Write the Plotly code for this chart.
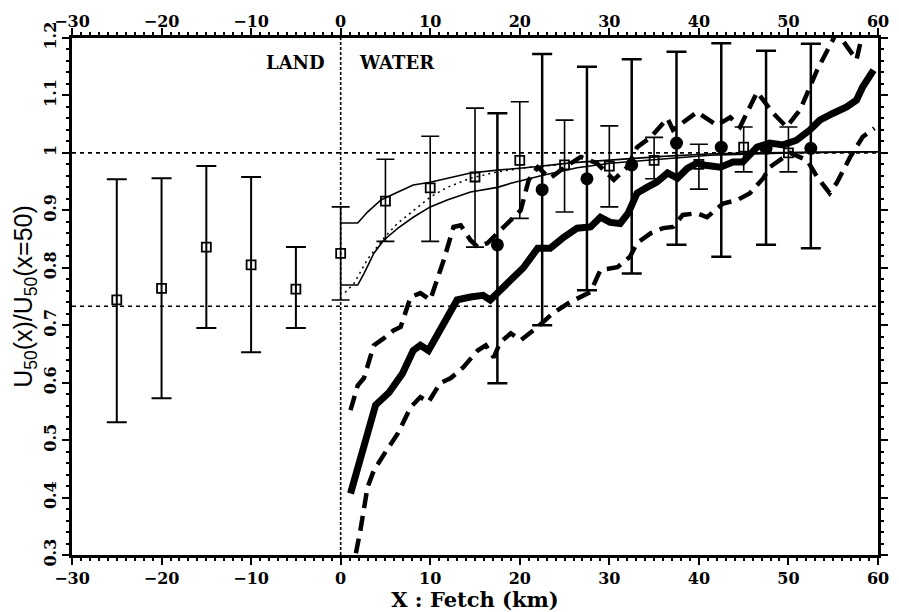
import plotly.graph_objects as go
import numpy as np

# ---------------- data ----------------
land_x = [-25, -20, -15, -10, -5]
land_y = [0.744, 0.764, 0.836, 0.805, 0.763]
land_hi = [0.954, 0.956, 0.977, 0.958, 0.836]
land_lo = [0.531, 0.573, 0.695, 0.653, 0.695]

sq_x = [0, 5, 10, 15, 20, 25, 30, 35, 40, 45, 50]
sq_y = [0.825, 0.916, 0.939, 0.958, 0.987, 0.979, 0.977, 0.987, 0.980, 1.010, 1.000]
sq_hi = [0.906, 0.989, 1.029, 1.078, 1.089, 1.057, 1.047, 1.027, 1.015, 1.045, 1.045]
sq_lo = [0.744, 0.846, 0.846, 0.836, 0.886, 0.897, 0.906, 0.955, 0.937, 0.967, 0.967]

ci_x = [17.5, 22.5, 27.5, 32.5, 37.5, 42.5, 47.5, 52.5]
ci_y = [0.840, 0.936, 0.955, 0.979, 1.017, 1.010, 1.008, 1.008]
ci_hi = [1.069, 1.172, 1.150, 1.163, 1.176, 1.191, 1.178, 1.190]
ci_lo = [0.599, 0.700, 0.761, 0.790, 0.840, 0.819, 0.840, 0.834]

mean_x = [1.1, 3.9, 5.4, 6.9, 8.1, 8.9, 9.8, 11.1, 11.9, 13.0, 14.5, 15.9, 16.7, 18.2,
          19.7, 20.4, 22.0, 23.4, 24.9, 26.4, 27.9, 29.0, 30.1, 31.2, 32.1, 33.1, 34.2,
          35.3, 36.5, 37.6, 38.7, 39.8, 40.5, 42.4, 43.8, 44.9, 46.5, 47.9, 49.4, 50.9,
          52.4, 53.5, 55.0, 56.5, 57.6, 58.3, 59.5]
mean_y = [0.407, 0.561, 0.583, 0.616, 0.656, 0.665, 0.656, 0.691, 0.709, 0.744, 0.749,
          0.752, 0.744, 0.766, 0.790, 0.800, 0.834, 0.834, 0.853, 0.869, 0.871, 0.888,
          0.879, 0.877, 0.895, 0.930, 0.940, 0.949, 0.965, 0.956, 0.973, 0.982, 0.979,
          0.975, 0.984, 0.984, 1.010, 1.017, 1.014, 1.022, 1.040, 1.057, 1.069, 1.080,
          1.092, 1.115, 1.144]

up_x = [1.1, 1.9, 2.6, 3.7, 4.8, 5.9, 6.7, 7.8, 8.9, 10.0, 11.5, 12.6, 13.4, 14.5, 15.3,
        16.4, 17.5, 19.0, 20.1, 21.0, 22.0, 23.4, 25.0, 26.8, 28.6, 30.5, 32.0, 33.1,
        34.6, 36.5, 37.1, 39.8, 42.0, 43.5, 44.6, 46.5, 48.3, 49.8, 51.3, 53.2, 55.4,
        57.6, 58.3, 60.0]
up_y = [0.552, 0.595, 0.608, 0.665, 0.677, 0.691, 0.697, 0.749, 0.756, 0.744, 0.813,
        0.871, 0.874, 0.848, 0.836, 0.843, 0.860, 0.883, 0.900, 0.953, 0.975, 0.956,
        0.975, 0.993, 0.982, 0.953, 0.975, 1.010, 1.027, 1.060, 1.040, 1.071, 1.048,
        1.062, 1.045, 1.106, 1.069, 1.045, 1.075, 1.144, 1.210, 1.162, 1.210, 1.250]

lo_x = [1.7, 2.2, 3.0, 3.7, 5.0, 6.4, 7.8, 8.9, 9.8, 11.1, 12.3, 13.7, 15.3, 16.2, 17.1,
        17.8, 19.0, 20.1, 22.0, 23.7, 25.6, 27.9, 29.0, 30.9, 32.3, 33.1, 34.6, 36.0,
        37.1, 38.2, 39.8, 40.9, 42.7, 44.3, 45.7, 47.2, 47.9, 49.0, 50.2, 52.1, 53.2,
        54.6, 55.4, 56.9, 58.3, 59.6]
lo_y = [0.303, 0.343, 0.418, 0.447, 0.479, 0.512, 0.557, 0.575, 0.566, 0.599, 0.608,
        0.627, 0.656, 0.665, 0.644, 0.670, 0.686, 0.674, 0.697, 0.721, 0.740, 0.758,
        0.796, 0.801, 0.819, 0.843, 0.860, 0.869, 0.871, 0.892, 0.895, 0.888, 0.912,
        0.918, 0.930, 0.956, 0.975, 0.987, 1.000, 0.987, 0.958, 0.930, 0.948, 0.993,
        1.028, 1.043]

tu_x = [0, 1.9, 3.0, 4.5, 6.4, 8.1, 10.0, 11.9, 14.5, 17.5, 21.2, 26, 31, 36, 41, 46, 52, 60]
tu_y = [0.878, 0.878, 0.897, 0.918, 0.932, 0.944, 0.949, 0.956, 0.965, 0.970, 0.975,
        0.983, 0.989, 0.994, 0.998, 1.000, 1.001, 1.002]

tl_x = [0, 1.9, 2.6, 3.7, 4.8, 6.4, 8.1, 10.0, 11.9, 14.5, 17.5, 19.0, 22.6, 26.4, 30.1,
        33.8, 41.2, 50, 60]
tl_y = [0.770, 0.770, 0.790, 0.825, 0.848, 0.869, 0.888, 0.906, 0.918, 0.932, 0.940,
        0.947, 0.961, 0.974, 0.982, 0.987, 0.996, 1.000, 1.002]

dot_x = [0.5, 1.5, 3.0, 5.0, 6.4, 8.1, 10.0, 11.9, 14.5, 17.5, 21.0, 25.0]
dot_y = [0.757, 0.773, 0.815, 0.855, 0.878, 0.900, 0.923, 0.940, 0.956, 0.967, 0.975, 0.980]

ref_levels = [1.0, 0.733]
x_ticks = [-30, -20, -10, 0, 10, 20, 30, 40, 50, 60]
y_ticks = [0.3, 0.4, 0.5, 0.6, 0.7, 0.8, 0.9, 1.0, 1.1, 1.2]
y_ticklabels = ["0.3", "0.4", "0.5", "0.6", "0.7", "0.8", "0.9", "1", "1.1", "1.2"]
x_range = [-30, 60]
y_range = [0.3, 1.2]

# ---------------- figure ----------------
fig = go.Figure()
BLACK = "black"

def errs(y, hi, lo):
    y, hi, lo = np.array(y), np.array(hi), np.array(lo)
    return (hi - y).tolist(), (y - lo).tolist()

# thin model curves
fig.add_trace(go.Scatter(x=tu_x, y=tu_y, mode="lines", line=dict(color=BLACK, width=1.6)))
fig.add_trace(go.Scatter(x=tl_x, y=tl_y, mode="lines", line=dict(color=BLACK, width=1.6)))
fig.add_trace(go.Scatter(x=dot_x, y=dot_y, mode="lines", line=dict(color=BLACK, width=1.5, dash="2px,4px")))

# dashed envelopes and mean
fig.add_trace(go.Scatter(x=up_x, y=up_y, mode="lines", line=dict(color=BLACK, width=4.5, dash="15px,8px")))
fig.add_trace(go.Scatter(x=lo_x, y=lo_y, mode="lines", line=dict(color=BLACK, width=4.5, dash="15px,8px")))
fig.add_trace(go.Scatter(x=mean_x, y=mean_y, mode="lines", line=dict(color=BLACK, width=7)))

# land points
a, b = errs(land_y, land_hi, land_lo)
fig.add_trace(go.Scatter(x=land_x, y=land_y, mode="markers",
                         marker=dict(symbol="square-open", size=9, color=BLACK, line=dict(width=1.8)),
                         error_y=dict(type="data", symmetric=False, array=a, arrayminus=b,
                                      color=BLACK, thickness=2, width=10)))
# water squares
a, b = errs(sq_y, sq_hi, sq_lo)
fig.add_trace(go.Scatter(x=sq_x, y=sq_y, mode="markers",
                         marker=dict(symbol="square-open", size=9, color=BLACK, line=dict(width=1.8)),
                         error_y=dict(type="data", symmetric=False, array=a, arrayminus=b,
                                      color=BLACK, thickness=1.6, width=9)))
# filled circles
a, b = errs(ci_y, ci_hi, ci_lo)
fig.add_trace(go.Scatter(x=ci_x, y=ci_y, mode="markers",
                         marker=dict(symbol="circle", size=13, color=BLACK),
                         error_y=dict(type="data", symmetric=False, array=a, arrayminus=b,
                                      color=BLACK, thickness=2.5, width=10)))

# dummy trace for mirrored axes (top/right)
fig.add_trace(go.Scatter(x=x_range, y=y_range, xaxis="x2", yaxis="y2", mode="markers",
                         marker=dict(opacity=0), hoverinfo="skip"))

for lv in ref_levels:
    fig.add_hline(y=lv, line=dict(color=BLACK, width=1.6, dash="4px,4px"))
fig.add_vline(x=0, line=dict(color=BLACK, width=1.6, dash="3px,2px"))

tfont = dict(family="DejaVu Serif", size=16, color=BLACK, weight="bold")
lab_font = dict(family="DejaVu Serif", size=18, color=BLACK, weight="bold")
fig.add_annotation(x=-1.5, y=1.158, text="LAND", showarrow=False, xanchor="right", font=lab_font)
fig.add_annotation(x=1.8, y=1.158, text="WATER", showarrow=False, xanchor="left", font=lab_font)

common_x = dict(range=x_range, tickvals=x_ticks, ticktext=[str(v).replace("-", "\u2212") for v in x_ticks],
                ticks="outside", ticklen=7, tickwidth=2, tickcolor=BLACK, automargin=False,
                showline=True, linewidth=2.5, linecolor=BLACK, showgrid=False, zeroline=False,
                minor=dict(dtick=1, ticks="outside", ticklen=3, tickwidth=1.5, tickcolor=BLACK),
                tickfont=tfont)
common_y = dict(range=y_range, tickvals=y_ticks, ticktext=y_ticklabels, automargin=False,
                ticks="outside", ticklen=7, tickwidth=2, tickcolor=BLACK,
                showline=True, linewidth=2.5, linecolor=BLACK, showgrid=False, zeroline=False,
                minor=dict(dtick=0.02, ticks="outside", ticklen=3, tickwidth=1.5, tickcolor=BLACK),
                tickfont=tfont)

# page body has an 8px margin; size the figure so the plot box lands where the reference has it
fig.update_layout(
    width=891, height=604,
    margin=dict(l=64, r=21, t=30, b=57, autoexpand=False),
    paper_bgcolor="white", plot_bgcolor="white",
    showlegend=False,
    xaxis=dict(**common_x, side="bottom",
               title=dict(text="X : Fetch (km)", standoff=0,
                          font=dict(family="DejaVu Serif", size=21, color=BLACK, weight="bold"))),
    xaxis2=dict(**common_x, side="top", overlaying="x", anchor="y", ticklabelstandoff=-5),
    yaxis=dict(**common_y, side="left", tickangle=-90,
               title=dict(text="U<sub>50</sub>(x)/U<sub>50</sub>(x=50)", standoff=2,
                          font=dict(family="Liberation Sans", size=25, color=BLACK))),
    yaxis2=dict(**common_y, side="right", overlaying="y", anchor="x", tickangle=90),
)

fig.write_html("out.html")
